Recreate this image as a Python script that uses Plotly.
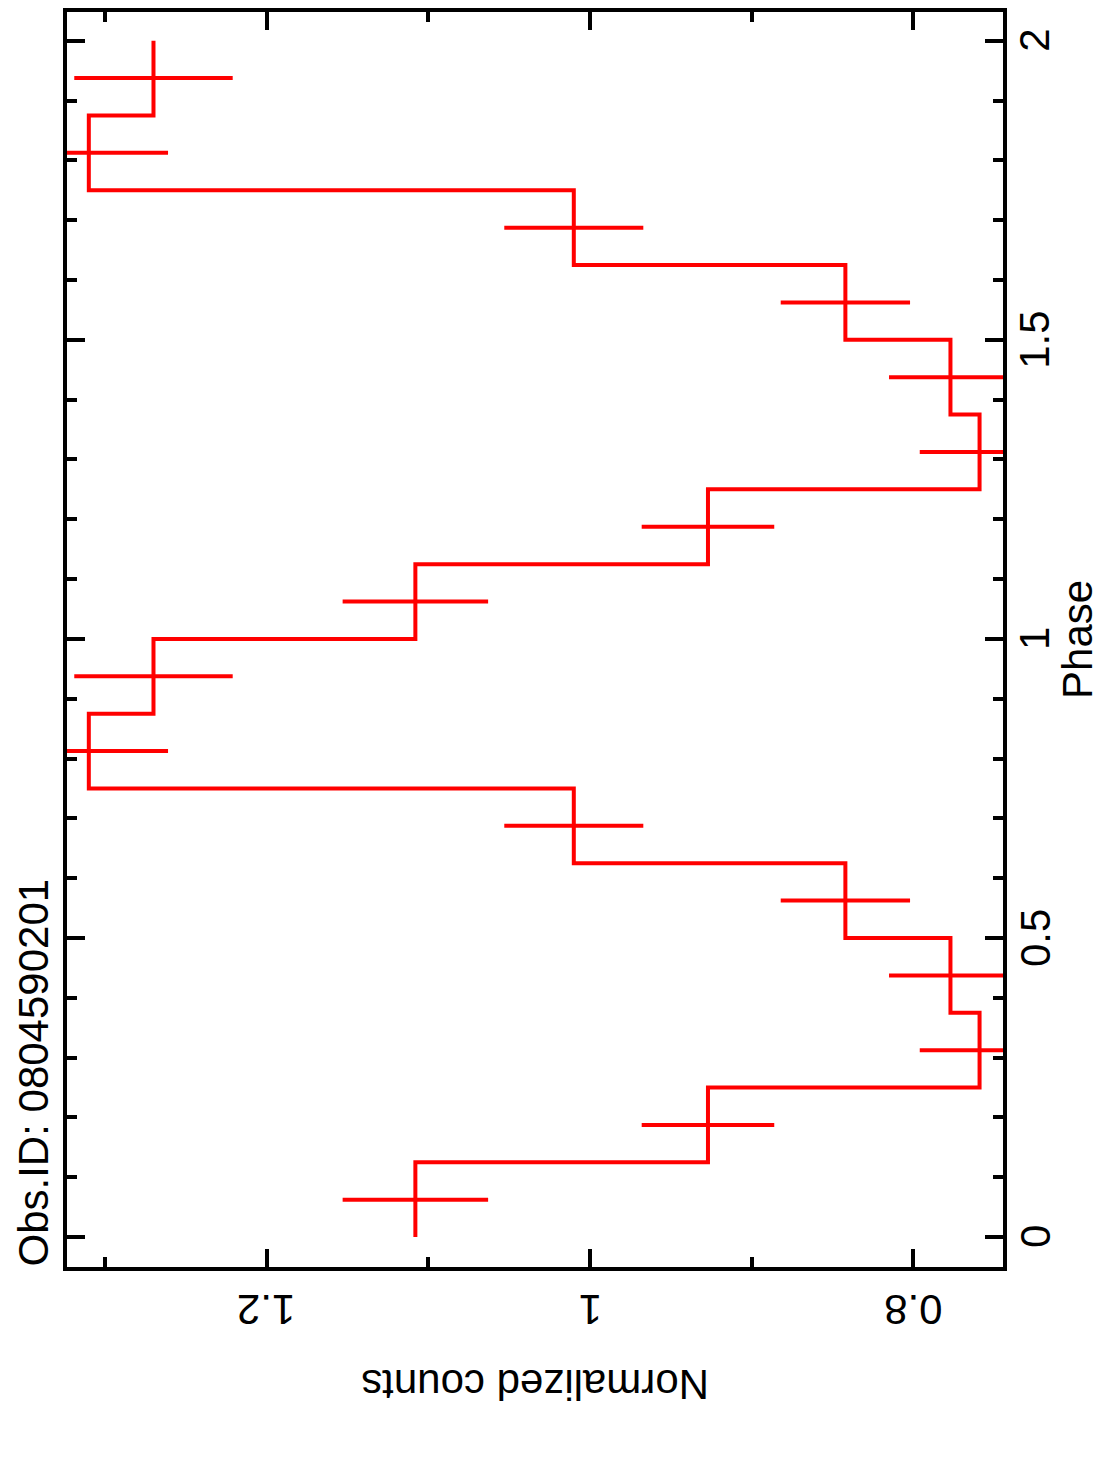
import plotly.graph_objects as go

# ---- data ----
phase_center = [0.0625, 0.1875, 0.3125, 0.4375, 0.5625, 0.6875, 0.8125, 0.9375,
                1.0625, 1.1875, 1.3125, 1.4375, 1.5625, 1.6875, 1.8125, 1.9375]
phase_halfwidth = 0.0625
counts = [1.108, 0.927, 0.759, 0.777, 0.842, 1.010, 1.310, 1.270,
          1.108, 0.927, 0.759, 0.777, 0.842, 1.010, 1.310, 1.270]
counts_err = [0.045, 0.041, 0.037, 0.038, 0.040, 0.043, 0.049, 0.049,
              0.045, 0.041, 0.037, 0.038, 0.040, 0.043, 0.049, 0.049]
count_ticks = [0.8, 1.0, 1.2]
count_ticklabels = ["0.8", "1", "1.2"]
phase_ticks = [0, 0.5, 1, 1.5, 2]
phase_ticklabels = ["0", "0.5", "1", "1.5", "2"]
obs_label = "Obs.ID: 0804590201"

# ---- step line built from the bins ----
step_x, step_y = [], []
for c, p in zip(counts, phase_center):
    step_x += [c, c]
    step_y += [p - phase_halfwidth, p + phase_halfwidth]

RED = "#ff0000"
FONT = "Liberation Sans, Arial, Helvetica, sans-serif"
FS = 42

fig = go.Figure()
fig.add_trace(go.Scatter(x=step_x, y=step_y, mode="lines",
                         line=dict(color=RED, width=4), hoverinfo="skip",
                         showlegend=False))
fig.add_trace(go.Scatter(x=counts, y=phase_center, mode="markers",
                         marker=dict(size=0.1, color=RED, opacity=0),
                         error_x=dict(type="data", array=counts_err, color=RED,
                                      thickness=4, width=0),
                         showlegend=False))

axis_common = dict(showline=True, linecolor="black", linewidth=4, mirror="allticks",
                   ticks="inside", tickcolor="black", tickwidth=3.5, ticklen=18,
                   showgrid=False, zeroline=False, showticklabels=False)

fig.update_xaxes(range=[1.3235, 0.7445], tickvals=count_ticks,
                 minor=dict(dtick=0.1, tick0=0, ticks="inside", ticklen=10,
                            tickwidth=3.5, tickcolor="black", showgrid=False),
                 **axis_common)
fig.update_yaxes(range=[-0.05, 2.048], tickvals=phase_ticks,
                 minor=dict(dtick=0.1, tick0=0, ticks="inside", ticklen=10,
                            tickwidth=3.5, tickcolor="black", showgrid=False),
                 **axis_common)

tfont = dict(family=FONT, size=FS, color="black")
for v, t in zip(count_ticks, count_ticklabels):
    fig.add_annotation(text=t, xref="x", yref="paper", x=v, y=-0.0334,
                       xanchor="center", yanchor="middle", textangle=180,
                       showarrow=False, font=tfont)
for v, t in zip(phase_ticks, phase_ticklabels):
    fig.add_annotation(text=t, xref="paper", yref="y", x=1.0342, y=v,
                       xanchor="center", yanchor="middle", textangle=-90,
                       showarrow=False, font=tfont)

fig.add_annotation(text="Normalized counts", xref="paper", yref="paper",
                   x=0.5, y=-0.0937, xanchor="center", yanchor="middle",
                   textangle=180, showarrow=False, font=tfont)
fig.add_annotation(text="Phase", xref="paper", yref="paper",
                   x=1.0795, y=0.5, xanchor="center", yanchor="middle",
                   textangle=-90, showarrow=False, font=tfont)
fig.add_annotation(text=obs_label, xref="paper", yref="paper",
                   x=-0.0363, y=0.155, xanchor="center", yanchor="middle",
                   textangle=-90, showarrow=False, font=tfont)

fig.update_layout(width=1100, height=1471, autosize=False,
                  margin=dict(l=67, r=97, t=8, b=204, pad=0),
                  paper_bgcolor="white", plot_bgcolor="white",
                  showlegend=False)

fig.write_html("out.html", config={"displayModeBar": False})
